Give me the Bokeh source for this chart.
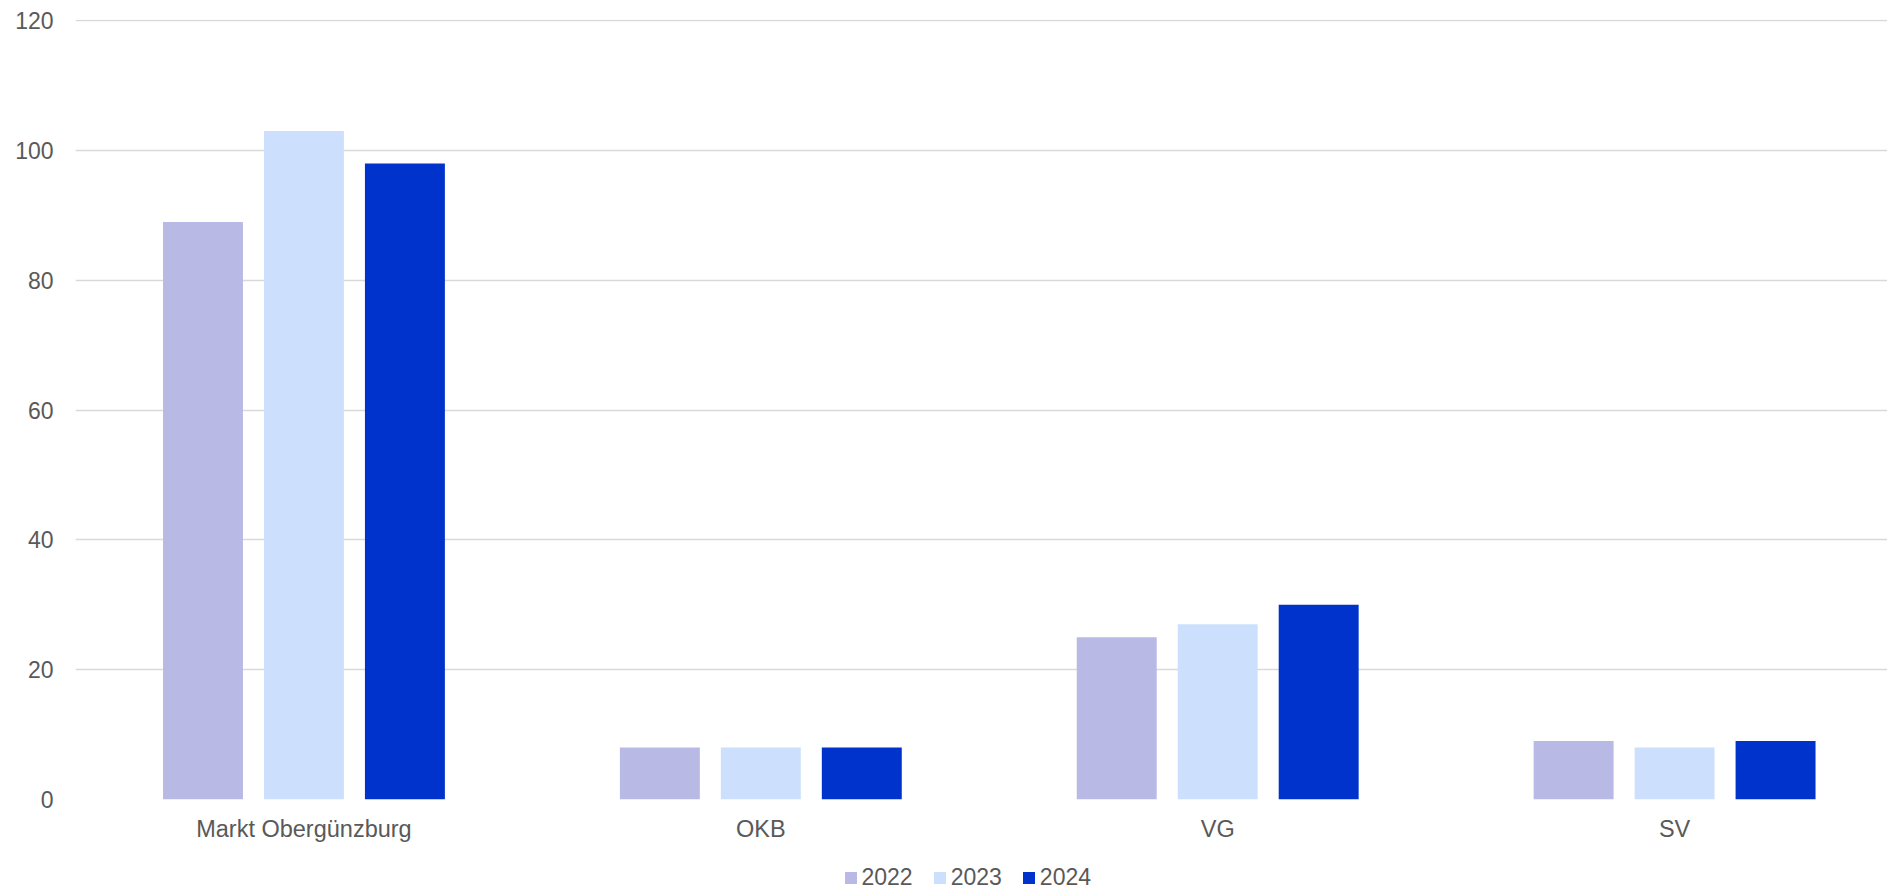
from bokeh.plotting import figure
from bokeh.layouts import column
from bokeh.models import ColumnDataSource, Range1d, FixedTicker, Legend, LegendItem
from bokeh.transform import dodge
from bokeh.embed import file_html
from bokeh.resources import INLINE

categories = ["Markt Obergünzburg", "OKB", "VG", "SV"]
years = ["2022", "2023", "2024"]
v2022 = [89, 8, 25, 9]
v2023 = [103, 8, 27, 8]
v2024 = [98, 8, 30, 9]
y_ticks = [0, 20, 40, 60, 80, 100, 120]
colors = ["#b9b9e6", "#cce0fd", "#0033cc"]

FONT = "Liberation Sans"
TXT = "#595959"

x_pos = [i + 0.5 for i in range(len(categories))]
src = ColumnDataSource(dict(x=x_pos, y2022=v2022, y2023=v2023, y2024=v2024))

p = figure(frame_width=1812, frame_height=780,
           min_border_left=75, min_border_top=19, min_border_right=0, min_border_bottom=56,
           x_range=Range1d(0, 3.966), y_range=Range1d(0, 120.2),
           output_backend="svg", toolbar_location=None)
p.outline_line_color = None
p.background_fill_color = "white"
p.border_fill_color = "white"

bw = 0.175
step = 0.221
for k, (yr, col) in enumerate(zip(years, colors)):
    p.vbar(x=dodge("x", (k - 1) * step, range=p.x_range), top="y" + yr, width=bw,
           source=src, fill_color=col, line_color=None)

p.xgrid.grid_line_color = None
p.ygrid.grid_line_color = "#d9d9d9"
p.ygrid.grid_line_width = 1.3
p.yaxis.ticker = FixedTicker(ticks=y_ticks)
p.xaxis.ticker = FixedTicker(ticks=x_pos)
p.xaxis.major_label_overrides = {x: c for x, c in zip(x_pos, categories)}

for ax in (p.xaxis[0], p.yaxis[0]):
    ax.axis_line_color = None
    ax.major_tick_line_color = None
    ax.minor_tick_line_color = None
    ax.major_tick_out = 0
    ax.major_tick_in = 0
    ax.major_label_text_font = FONT
    ax.major_label_text_color = TXT

p.yaxis.major_label_text_font_size = "23px"
p.yaxis.major_label_standoff = 22
p.xaxis.major_label_text_font_size = "23.5px"
p.xaxis.major_label_standoff = 16

# legend strip below the chart
lf = figure(width=1887, height=36, x_range=Range1d(0, 1), y_range=Range1d(0, 1),
            x_axis_location=None, y_axis_location=None, min_border=0,
            output_backend="svg", toolbar_location=None)
lf.outline_line_color = None
lf.grid.grid_line_color = None
lf.background_fill_color = "white"
lf.border_fill_color = "white"
items = []
for yr, col in zip(years, colors):
    # legend-only swatch (kept outside the visible range)
    r = lf.vbar(x=[-5], top=[0], width=0.1, fill_color=col, line_color=None)
    items.append(LegendItem(label=yr, renderers=[r]))

legend = Legend(items=items, orientation="horizontal", location=(767.5, 0.5),
                glyph_width=15, glyph_height=15, label_standoff=4,
                spacing=19, padding=0, margin=0,
                border_line_color=None, background_fill_alpha=0,
                label_text_font=FONT, label_text_font_size="23px",
                label_text_color=TXT, label_text_baseline="middle")
lf.add_layout(legend)

layout = column(p, lf, spacing=0)
open("out.html", "w").write(file_html(layout, INLINE))
